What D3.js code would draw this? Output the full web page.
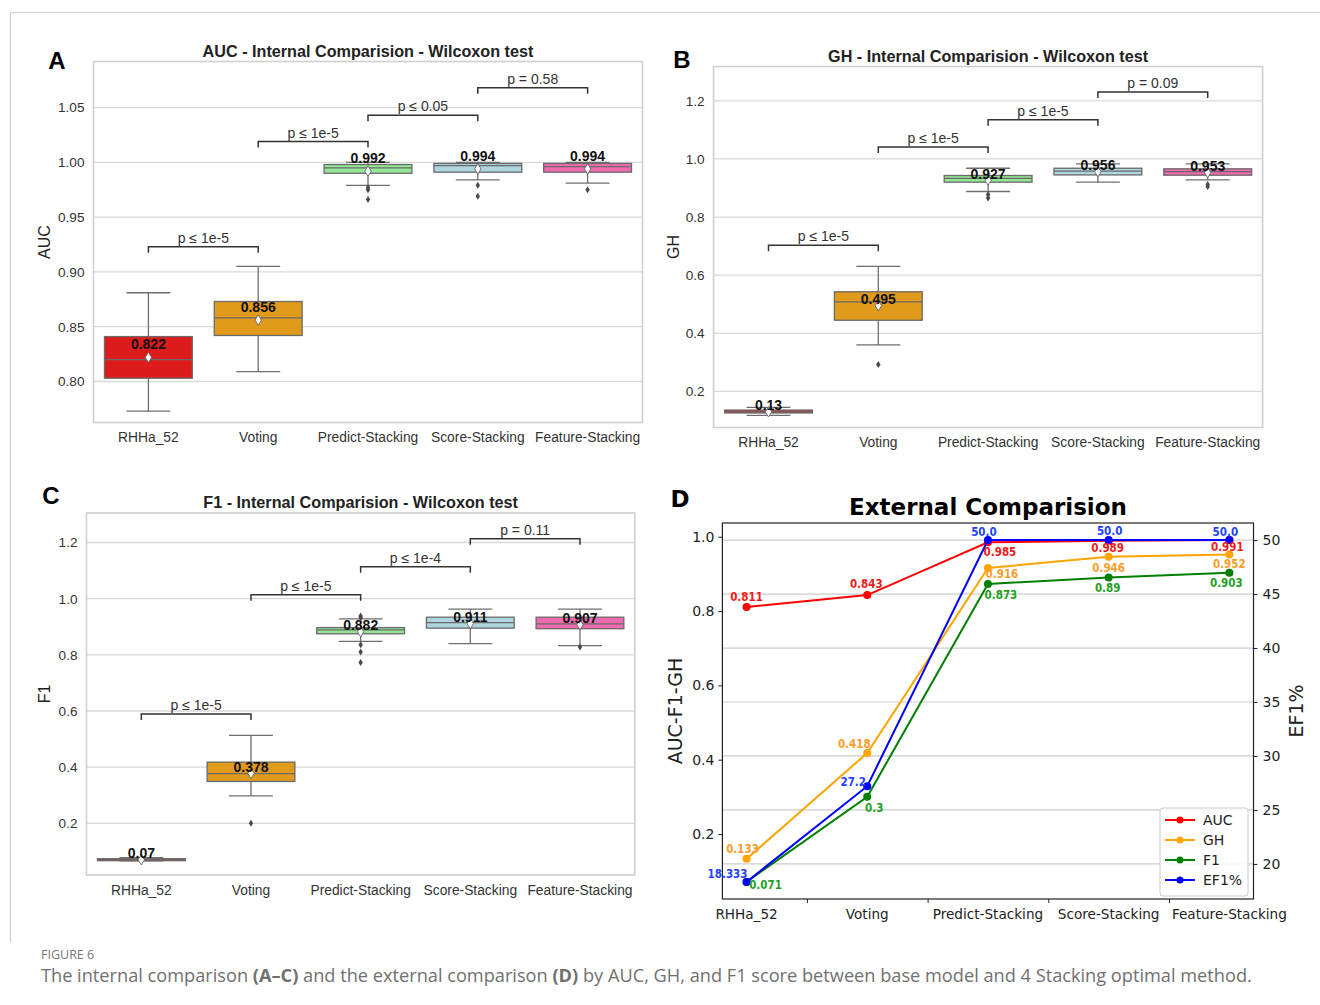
<!DOCTYPE html>
<html>
<head>
<meta charset="utf-8">
<script src="https://cdn.jsdelivr.net/npm/d3@7"></script>
<style>
  body { margin: 0; background: #fff; }
  svg { display: block; }
</style>
</head>
<body>
<div id="chart"></div>
<script>

// ---- data ----
var categories = ["RHHa_52", "Voting", "Predict-Stacking", "Score-Stacking", "Feature-Stacking"];

// [whisker low, q1, median, q3, whisker high]
var aucBox = [[0.773, 0.803, 0.820, 0.841, 0.881], [0.809, 0.842, 0.858, 0.873, 0.905],
              [0.979, 0.990, 0.995, 0.998, 1.000], [0.984, 0.991, 0.997, 0.999, 1.000],
              [0.981, 0.991, 0.996, 0.999, 1.000]];
var aucMean = [0.822, 0.856, 0.992, 0.994, 0.994];
var aucOutliers = [[], [], [0.977, 0.975, 0.966], [0.979, 0.969], [0.975]];
var aucTests = [["p ≤ 1e-5", 0, 1, 0.923], ["p ≤ 1e-5", 1, 2, 1.019], ["p ≤ 0.05", 2, 3, 1.043], ["p = 0.58", 3, 4, 1.068]];
var aucTicks = [0.80, 0.85, 0.90, 0.95, 1.00, 1.05];

var ghBox = [[0.118, 0.126, 0.130, 0.136, 0.145], [0.360, 0.445, 0.508, 0.543, 0.630],
             [0.888, 0.920, 0.933, 0.943, 0.968], [0.920, 0.945, 0.958, 0.968, 0.983],
             [0.928, 0.944, 0.956, 0.966, 0.983]];
var ghMean = [0.13, 0.495, 0.927, 0.956, 0.953];
var ghOutliers = [[], [0.293], [0.878, 0.866], [], [0.912, 0.905]];
var ghTests = [["p ≤ 1e-5", 0, 1, 0.703], ["p ≤ 1e-5", 1, 2, 1.041], ["p ≤ 1e-5", 2, 3, 1.135], ["p = 0.09", 3, 4, 1.230]];
var ghTicks = [0.2, 0.4, 0.6, 0.8, 1.0, 1.2];

var f1Box = [[0.066, 0.067, 0.070, 0.074, 0.078], [0.298, 0.349, 0.377, 0.418, 0.513],
             [0.848, 0.875, 0.889, 0.897, 0.928], [0.840, 0.895, 0.915, 0.934, 0.963],
             [0.833, 0.893, 0.910, 0.934, 0.963]];
var f1Mean = [0.07, 0.378, 0.882, 0.911, 0.907];
var f1Outliers = [[], [0.200], [0.938, 0.933, 0.836, 0.810, 0.773], [], [0.828]];
var f1Tests = [["p ≤ 1e-5", 0, 1, 0.589], ["p ≤ 1e-5", 1, 2, 1.014], ["p ≤ 1e-4", 2, 3, 1.114], ["p = 0.11", 3, 4, 1.213]];
var f1Ticks = [0.2, 0.4, 0.6, 0.8, 1.0, 1.2];

// external comparison
var extAUC = [0.811, 0.843, 0.985, 0.989, 0.991];
var extGH = [0.133, 0.418, 0.916, 0.946, 0.952];
var extF1 = [0.071, 0.3, 0.873, 0.89, 0.903];
var extEF1 = [18.333, 27.2, 50.0, 50.0, 50.0];
var extLeftTicks = [0.2, 0.4, 0.6, 0.8, 1.0];
var extRightTicks = [20, 25, 30, 35, 40, 45, 50];

// ---- styles ----
var boxColors = ["#dc1c1c", "#e09a1c", "#93e693", "#afd5e0", "#ef6aae"];
var sans = "'Liberation Sans', Arial, sans-serif";
var dejavu = "'DejaVu Sans', sans-serif";

var svg = d3.select("#chart").append("svg")
    .attr("width", 1320)
    .attr("height", 1005);

// page frame
svg.append("line").attr("x1", 10).attr("x2", 1320).attr("y1", 12.5).attr("y2", 12.5)
    .attr("stroke", "#d0d0d0").attr("stroke-width", 1.2);
svg.append("line").attr("x1", 10.5).attr("x2", 10.5).attr("y1", 12).attr("y2", 942)
    .attr("stroke", "#d0d0d0").attr("stroke-width", 1.2);

function diamond(w, h) {
  return "M0," + (-h) + "L" + w + ",0L0," + h + "L" + (-w) + ",0Z";
}

function boxPanel(p) {
  var x = d3.scaleBand().domain(categories).range([p.left, p.right]);
  var y = d3.scaleLinear().domain(p.domain).range([p.bottom, p.top]);
  var bw = x.bandwidth() * 0.8;
  var g = svg.append("g");

  g.selectAll(".grid")
      .data(p.ticks)
    .enter().append("line")
      .attr("x1", p.left).attr("x2", p.right)
      .attr("y1", function(d) { return y(d); })
      .attr("y2", function(d) { return y(d); })
      .attr("stroke", "#d9d9d9")
      .attr("stroke-width", 1.3);

  g.append("rect")
      .attr("x", p.left).attr("y", p.top)
      .attr("width", p.right - p.left).attr("height", p.bottom - p.top)
      .attr("fill", "none").attr("stroke", "#cfcfcf").attr("stroke-width", 1.6);

  var ya = g.append("g")
      .attr("transform", "translate(" + p.left + ",0)")
      .style("font-family", sans)
      .style("font-size", "13.6px")
      .call(d3.axisLeft(y).tickValues(p.ticks).tickFormat(d3.format(p.fmt)).tickSize(0).tickPadding(9));
  ya.select(".domain").remove();
  ya.selectAll("text").attr("fill", "#333");

  var xa = g.append("g")
      .attr("transform", "translate(0," + p.bottom + ")")
      .style("font-family", sans)
      .style("font-size", "13.8px")
      .call(d3.axisBottom(x).tickSize(0).tickPadding(10));
  xa.select(".domain").remove();
  xa.selectAll("text").attr("fill", "#333");

  var rows = categories.map(function(c, i) {
    return {c: c, s: p.box[i], mean: p.mean[i], out: p.outliers[i], color: boxColors[i]};
  });

  var box = g.selectAll(".box")
      .data(rows)
    .enter().append("g")
      .attr("transform", function(d) { return "translate(" + (x(d.c) + x.bandwidth() / 2) + ",0)"; });

  box.append("line")
      .attr("y1", function(d) { return y(d.s[0]); })
      .attr("y2", function(d) { return y(d.s[4]); })
      .attr("stroke", "#6e6e6e").attr("stroke-width", 1.3);
  [0, 4].forEach(function(k) {
    box.append("line")
        .attr("x1", -bw / 4).attr("x2", bw / 4)
        .attr("y1", function(d) { return y(d.s[k]); })
        .attr("y2", function(d) { return y(d.s[k]); })
        .attr("stroke", "#6e6e6e").attr("stroke-width", 1.3);
  });
  box.append("rect")
      .attr("x", -bw / 2).attr("width", bw)
      .attr("y", function(d) { return y(d.s[3]); })
      .attr("height", function(d) { return Math.max(1, y(d.s[1]) - y(d.s[3])); })
      .attr("fill", function(d) { return d.color; })
      .attr("stroke", "#6a6a6a").attr("stroke-width", 1.3);
  box.append("line")
      .attr("x1", -bw / 2).attr("x2", bw / 2)
      .attr("y1", function(d) { return y(d.s[2]); })
      .attr("y2", function(d) { return y(d.s[2]); })
      .attr("stroke", "#6a6a6a").attr("stroke-width", 1.3);

  box.selectAll(".out")
      .data(function(d) { return d.out; })
    .enter().append("path")
      .attr("d", diamond(2.2, 3.5))
      .attr("transform", function(d) { return "translate(0," + y(d) + ")"; })
      .attr("fill", "#4a4a4a");

  box.append("path")
      .attr("d", diamond(3.2, 5.2))
      .attr("transform", function(d) { return "translate(0," + y(d.mean) + ")"; })
      .attr("fill", "#fff").attr("stroke", "#555").attr("stroke-width", 0.8);

  box.append("text")
      .attr("y", function(d) { return y(d.mean) - p.labelGap; })
      .attr("text-anchor", "middle")
      .style("font-family", sans).style("font-size", "14px").style("font-weight", "bold")
      .attr("fill", "#111")
      .text(function(d) { return d.mean; });

  // significance brackets
  var t = g.selectAll(".test")
      .data(p.tests)
    .enter().append("g");
  t.append("path")
      .attr("d", function(d) {
        var x1 = x(categories[d[1]]) + x.bandwidth() / 2,
            x2 = x(categories[d[2]]) + x.bandwidth() / 2,
            yy = y(d[3]);
        return "M" + x1 + "," + (yy + 6) + "V" + yy + "H" + x2 + "V" + (yy + 6);
      })
      .attr("fill", "none").attr("stroke", "#333").attr("stroke-width", 1.5);
  t.append("text")
      .attr("x", function(d) { return (x(categories[d[1]]) + x(categories[d[2]])) / 2 + x.bandwidth() / 2; })
      .attr("y", function(d) { return y(d[3]) - 4; })
      .attr("text-anchor", "middle")
      .style("font-family", sans).style("font-size", "14px")
      .attr("fill", "#333")
      .text(function(d) { return d[0]; });

  svg.append("text")
      .attr("x", (p.left + p.right) / 2).attr("y", p.top - 5)
      .attr("text-anchor", "middle")
      .style("font-family", sans).style("font-size", "16.2px").style("font-weight", "bold")
      .attr("fill", "#222")
      .text(p.title);

  svg.append("text")
      .attr("transform", "translate(" + p.ylabX + "," + (p.top + p.bottom) / 2 + ") rotate(-90)")
      .attr("text-anchor", "middle")
      .style("font-family", sans).style("font-size", "16px")
      .attr("fill", "#222")
      .text(p.ylab);

  svg.append("text")
      .attr("x", p.letter[0]).attr("y", p.letter[1])
      .attr("text-anchor", "middle")
      .style("font-family", sans).style("font-size", "24px").style("font-weight", "bold")
      .attr("fill", "#000")
      .text(p.name);
}

boxPanel({name: "A", letter: [57, 69], title: "AUC - Internal Comparision - Wilcoxon test", ylab: "AUC", ylabX: 50,
  left: 93.5, right: 642.5, top: 61.5, bottom: 422.5, domain: [0.7626, 1.092], ticks: aucTicks, fmt: ".2f",
  box: aucBox, mean: aucMean, outliers: aucOutliers, tests: aucTests, labelGap: 8});

boxPanel({name: "B", letter: [682, 68], title: "GH - Internal Comparision - Wilcoxon test", ylab: "GH", ylabX: 679,
  left: 713.6, right: 1262.6, top: 66.5, bottom: 427.5, domain: [0.076, 1.318], ticks: ghTicks, fmt: ".1f",
  box: ghBox, mean: ghMean, outliers: ghOutliers, tests: ghTests, labelGap: 1.5});

boxPanel({name: "C", letter: [51, 504], title: "F1 - Internal Comparision - Wilcoxon test", ylab: "F1", ylabX: 50,
  left: 86.5, right: 634.8, top: 513, bottom: 875, domain: [0.016, 1.305], ticks: f1Ticks, fmt: ".1f",
  box: f1Box, mean: f1Mean, outliers: f1Outliers, tests: f1Tests, labelGap: 1.5});

// ---- panel D: external comparison ----
(function() {
  var left = 722.4, right = 1253.5, top = 523, bottom = 899;
  var series = [
    {name: "AUC", values: extAUC, line: "#ff0000", text: "#f01a1a", axis: "left",
     off: [[0, -10], [-1, -11], [12, 10], [-1, 7], [-2, 7]]},
    {name: "GH", values: extGH, line: "#ffa500", text: "#ff9c2a", axis: "left",
     off: [[-4, -10], [-13, -9], [14, 6], [0, 11], [0, 9]]},
    {name: "F1", values: extF1, line: "#008000", text: "#1fa01f", axis: "left",
     off: [[19, 3], [7, 11], [13, 11], [-1, 10], [-3, 10]]},
    {name: "EF1%", values: extEF1, line: "#0000ff", text: "#2143ff", axis: "right",
     off: [[-19, -8], [-14, -4], [-4, -8], [1, -9], [-4, -8]]}
  ];

  var x = d3.scaleLinear().domain([-0.2, 4.2]).range([left, right]);
  var lExt = d3.extent(extAUC.concat(extGH, extF1)), lPad = (lExt[1] - lExt[0]) * 0.05;
  var rExt = d3.extent(extEF1), rPad = (rExt[1] - rExt[0]) * 0.05;
  var yL = d3.scaleLinear().domain([lExt[0] - lPad, lExt[1] + lPad]).range([bottom, top]);
  var yR = d3.scaleLinear().domain([rExt[0] - rPad, rExt[1] + rPad]).range([bottom, top]);

  var g = svg.append("g");

  g.selectAll(".grid")
      .data(extRightTicks)
    .enter().append("line")
      .attr("x1", left).attr("x2", right)
      .attr("y1", function(d) { return yR(d); })
      .attr("y2", function(d) { return yR(d); })
      .attr("stroke", "#cccccc").attr("stroke-width", 1.2);

  var la = g.append("g")
      .attr("transform", "translate(" + left + ",0)")
      .style("font-family", dejavu).style("font-size", "14px")
      .call(d3.axisLeft(yL).tickValues(extLeftTicks).tickFormat(d3.format(".1f")).tickSize(4).tickPadding(4));
  la.select(".domain").remove();
  la.selectAll("line").attr("stroke", "#222");
  la.selectAll("text").attr("fill", "#222");

  var ra = g.append("g")
      .attr("transform", "translate(" + right + ",0)")
      .style("font-family", dejavu).style("font-size", "14px")
      .call(d3.axisRight(yR).tickValues(extRightTicks).tickSize(4).tickPadding(5));
  ra.select(".domain").remove();
  ra.selectAll("line").attr("stroke", "#222");
  ra.selectAll("text").attr("fill", "#222");

  var xa = g.append("g")
      .attr("transform", "translate(0," + bottom + ")")
      .call(d3.axisBottom(x).tickValues([0.5, 1.5, 2.5, 3.5]).tickSize(4).tickFormat(""));
  xa.select(".domain").remove();
  xa.selectAll("line").attr("stroke", "#222");

  g.selectAll(".xlab")
      .data(categories)
    .enter().append("text")
      .attr("x", function(d, i) { return x(i); })
      .attr("y", bottom + 20)
      .attr("text-anchor", "middle")
      .style("font-family", dejavu).style("font-size", "13.6px")
      .attr("fill", "#222")
      .text(function(d) { return d; });

  g.append("rect")
      .attr("x", left).attr("y", top)
      .attr("width", right - left).attr("height", bottom - top)
      .attr("fill", "none").attr("stroke", "#222").attr("stroke-width", 1.2);

  series.forEach(function(s, k) {
    var yy = s.axis === "left" ? yL : yR;
    var line = d3.line()
        .x(function(d, i) { return x(i); })
        .y(function(d) { return yy(d); });
    g.append("path")
        .datum(s.values)
        .attr("d", line)
        .attr("fill", "none").attr("stroke", s.line).attr("stroke-width", 2);
    g.selectAll(".pt" + k)
        .data(s.values)
      .enter().append("circle")
        .attr("class", "pt" + k)
        .attr("cx", function(d, i) { return x(i); })
        .attr("cy", function(d) { return yy(d); })
        .attr("r", 4)
        .attr("fill", s.line);
  });

  series.forEach(function(s, k) {
    var yy = s.axis === "left" ? yL : yR;
    g.selectAll(".lab" + k)
        .data(s.values)
      .enter().append("text")
        .attr("class", "lab" + k)
        .attr("x", function(d, i) { return x(i) + s.off[i][0]; })
        .attr("y", function(d, i) { return yy(d) + s.off[i][1]; })
        .attr("text-anchor", "middle")
        .attr("dominant-baseline", "central")
        .style("font-family", "'DejaVu Sans Condensed', 'DejaVu Sans', sans-serif")
        .style("font-size", "11.5px").style("font-weight", "bold")
        .attr("fill", s.text)
        .text(function(d) { return s.axis === "right" && d === Math.round(d) ? d.toFixed(1) : d; });
  });

  // legend
  var lg = g.append("g").attr("transform", "translate(1160,808)");
  lg.append("rect")
      .attr("width", 88).attr("height", 88).attr("rx", 3)
      .attr("fill", "#fff").attr("fill-opacity", 0.85)
      .attr("stroke", "#cccccc");
  var item = lg.selectAll(".item")
      .data(series)
    .enter().append("g")
      .attr("class", "item")
      .attr("transform", function(d, i) { return "translate(0," + (12 + i * 20) + ")"; });
  item.append("line").attr("x1", 5).attr("x2", 35)
      .attr("stroke", function(d) { return d.line; }).attr("stroke-width", 2);
  item.append("circle").attr("cx", 20).attr("r", 3.5)
      .attr("fill", function(d) { return d.line; });
  item.append("text")
      .attr("x", 43).attr("dy", "0.35em")
      .style("font-family", dejavu).style("font-size", "14px")
      .attr("fill", "#222")
      .text(function(d) { return d.name; });

  svg.append("text")
      .attr("x", (left + right) / 2).attr("y", 515)
      .attr("text-anchor", "middle")
      .style("font-family", dejavu).style("font-size", "23px").style("font-weight", "bold")
      .attr("fill", "#000")
      .text("External Comparision");

  svg.append("text")
      .attr("transform", "translate(682," + (top + bottom) / 2 + ") rotate(-90)")
      .attr("text-anchor", "middle")
      .style("font-family", dejavu).style("font-size", "19px")
      .attr("fill", "#222")
      .text("AUC-F1-GH");

  svg.append("text")
      .attr("transform", "translate(1303," + (top + bottom) / 2 + ") rotate(-90)")
      .attr("text-anchor", "middle")
      .style("font-family", dejavu).style("font-size", "19px")
      .attr("fill", "#222")
      .text("EF1%");

  svg.append("text")
      .attr("x", 680).attr("y", 507)
      .attr("text-anchor", "middle")
      .style("font-family", dejavu).style("font-size", "23px").style("font-weight", "bold")
      .attr("fill", "#000")
      .text("D");
})();

// ---- caption ----
svg.append("text")
    .attr("x", 41).attr("y", 959)
    .style("font-family", "'Open Sans', sans-serif").style("font-size", "12.5px")
    .attr("fill", "#777")
    .text("FIGURE 6");

var cap = svg.append("text")
    .attr("x", 41).attr("y", 982)
    .style("font-family", "'Open Sans', sans-serif").style("font-size", "18.2px")
    .attr("fill", "#707070");
[["The internal comparison ", false], ["(A–C)", true], [" and the external comparison ", false], ["(D)", true],
 [" by AUC, GH, and F1 score between base model and 4 Stacking optimal method.", false]].forEach(function(s) {
  cap.append("tspan").style("font-weight", s[1] ? "bold" : "normal").text(s[0]);
});

</script>
</body>
</html>
